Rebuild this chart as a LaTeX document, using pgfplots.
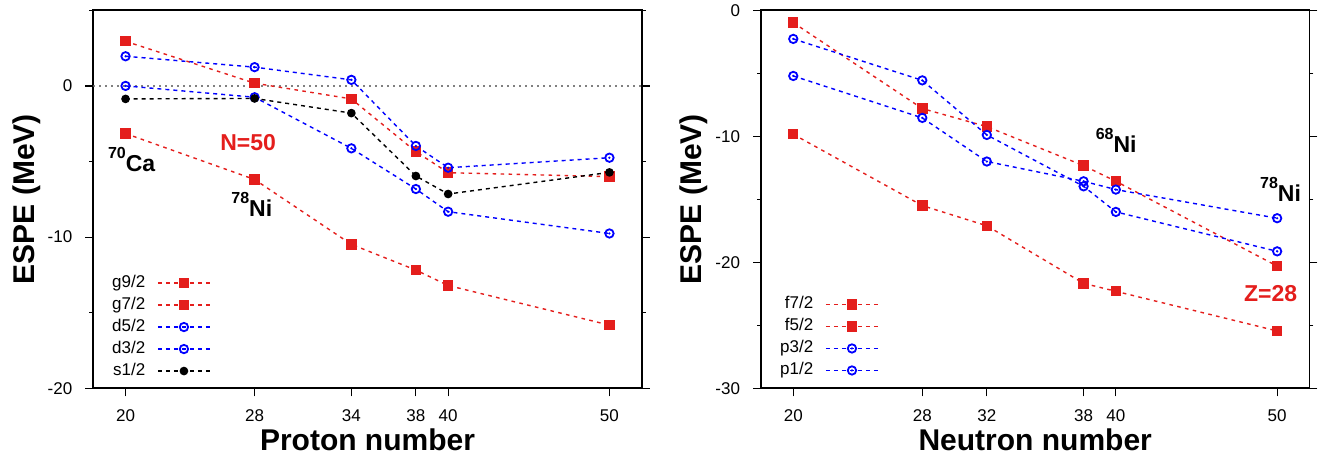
\documentclass[border=0pt]{standalone}
\usepackage{fontspec}
\setmainfont{Liberation Sans}
\usepackage{pgfplots}
\pgfplotsset{compat=1.18}
\definecolor{myred}{RGB}{228,30,28}
\definecolor{myblue}{RGB}{0,0,255}
\pgfdeclareplotmark{codot}{%
  \pgfpathcircle{\pgfpointorigin}{\pgfplotmarksize}\pgfusepathqstroke
  \pgfpathcircle{\pgfpointorigin}{0.3\pgfplotmarksize}\pgfusepathqfill}
\tikzset{ann/.style={font=\fontsize{11.5}{12}\selectfont\bfseries, inner sep=0pt, anchor=base west}}
\pgfplotsset{
  espe/.style={
    scale only axis, width=274.2pt, height=189pt,
    xmin=18, xmax=52,
    xtick pos=left, ytick pos=both,
    tick align=outside,
    major tick length=4pt, minor tick length=2pt,
    minor y tick num=1,
    axis line style={line width=0.9pt},
    every tick/.style={black, line width=0.6pt},
    tick label style={font=\fontsize{8.5}{10}\selectfont, inner sep=0pt},
    yticklabel style={xshift=-6.3pt},
    xticklabel style={anchor=base, yshift=-12.4pt},
    /pgf/number format/assume math mode=true,
    xlabel style={font=\fontsize{15}{18}\selectfont\bfseries, at={(axis description cs:0.5,-0.1657)}, anchor=base},
    ylabel style={font=\fontsize{15}{18}\selectfont\bfseries, at={(axis description cs:-0.122,0.5)}, anchor=center},
    legend plot pos=right,
    legend cell align=right,
    legend style={draw=none, fill=none, font=\fontsize{8.5}{10}\selectfont, inner sep=0pt,
      row sep=2.5pt, column sep=6pt,
      nodes={inner sep=0pt, text height=6.4pt, text depth=2.1pt}},
    legend image code/.code={\draw[mark repeat=2,mark phase=2] plot coordinates {(0pt,0pt)(13pt,0pt)(26pt,0pt)};},
  },
  rsq/.style={myred, line width=0.7pt, dash pattern=on 1.8pt off 2.2pt, mark=square*, mark size=2.25pt, mark options={solid, fill=myred, draw=myred}},
  bci/.style={myblue, line width=0.7pt, dash pattern=on 2pt off 2pt, mark=codot, mark size=2.1pt, mark options={solid, line width=0.9pt, fill=myblue, draw=myblue}},
  bdot/.style={black, line width=0.7pt, dash pattern=on 2pt off 2pt, mark=*, mark size=1.8pt, mark options={solid, fill=black}},
}
\newcommand{\iso}[2]{{\fontsize{8}{8}\selectfont\raisebox{6.5pt}{#1}}#2}
\begin{document}
\begin{tikzpicture}
\useasboundingbox (-46.65pt,-36.35pt) rectangle (615.85pt,194.15pt);
\begin{axis}[espe, at={(0pt,0pt)}, anchor=south west,
  ymin=-20, ymax=5, ytick={-20,-10,0}, minor ytick={-15,-5,5},
  xtick={20,28,34,38,40,50},
  xlabel={Proton number}, ylabel={ESPE (MeV)},
  legend style={at={(axis cs:25.3,-12.45)}, anchor=north east}]
\addplot[gray, line width=0.7pt, dash pattern=on 0.8pt off 2.2pt, forget plot] coordinates {(18,0) (52,0)};
\addplot[rsq] coordinates {(20,-3.15)(28,-6.19)(34,-10.48)(38,-12.18)(40,-13.2)(50,-15.82)};
\addlegendentry{g9/2}
\addplot[rsq] coordinates {(20,2.95)(28,0.18)(34,-0.86)(38,-4.35)(40,-5.74)(50,-6.0)};
\addlegendentry{g7/2}
\addplot[bci] coordinates {(20,0.0)(28,-0.75)(34,-4.13)(38,-6.82)(40,-8.32)(50,-9.76)};
\addlegendentry{d5/2}
\addplot[bci] coordinates {(20,1.96)(28,1.24)(34,0.4)(38,-3.97)(40,-5.41)(50,-4.75)};
\addlegendentry{d3/2}
\addplot[bdot] coordinates {(20,-0.86)(28,-0.83)(34,-1.8)(38,-5.96)(40,-7.15)(50,-5.72)};
\addlegendentry{s1/2}
\node[ann, myred] at (axis cs:25.85,-4.25) {N=50};
\node[ann] at (axis cs:18.89,-5.68) {\iso{70}{Ca}};
\node[ann] at (axis cs:26.54,-8.66) {\iso{78}{Ni}};
\end{axis}
\begin{axis}[espe, at={(333.85pt,0pt)}, anchor=south west,
  ymin=-30, ymax=0, ytick={-30,-20,-10,0}, minor ytick={-25,-15,-5},
  xtick={20,28,32,38,40,50},
  xlabel={Neutron number}, ylabel={ESPE (MeV)},
  legend style={at={(axis cs:25.32,-22.64)}, anchor=north east}]
\addplot[rsq] coordinates {(20,-9.84)(28,-15.5)(32,-17.1)(38,-21.67)(40,-22.3)(50,-25.45)};
\addlegendentry{f7/2}
\addplot[rsq] coordinates {(20,-0.98)(28,-7.8)(32,-9.23)(38,-12.33)(40,-13.57)(50,-20.3)};
\addlegendentry{f5/2}
\addplot[bci] coordinates {(20,-2.27)(28,-5.56)(32,-9.89)(38,-13.97)(40,-16.0)(50,-19.13)};
\addlegendentry{p3/2}
\addplot[bci] coordinates {(20,-5.21)(28,-8.54)(32,-12.0)(38,-13.57)(40,-14.23)(50,-16.5)};
\addlegendentry{p1/2}
\node[ann] at (axis cs:38.73,-11.30) {\iso{68}{Ni}};
\node[ann] at (axis cs:48.92,-15.18) {\iso{78}{Ni}};
\node[ann, myred] at (axis cs:47.93,-23.10) {Z=28};
\end{axis}
\end{tikzpicture}
\end{document}
